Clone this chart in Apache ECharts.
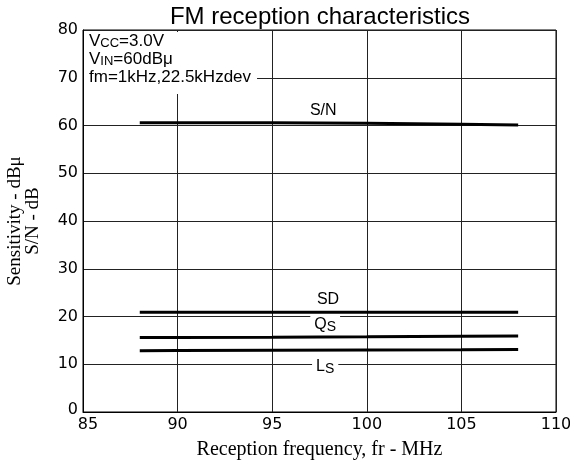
<!DOCTYPE html>
<html>
<head>
<meta charset="utf-8">
<script src="https://cdn.jsdelivr.net/npm/echarts@6/dist/echarts.min.js"></script>
<style>
  html, body { margin: 0; padding: 0; background: #fff; }
  #fmChart { width: 570px; height: 466px; }
</style>
</head>
<body>
<div id="fmChart"></div>
<script>
// data
var freq = [88, 90, 95, 100, 105, 108];
var snData = [60.6, 60.6, 60.55, 60.45, 60.25, 60.1];
var sdData = [20.9, 20.9, 20.9, 20.9, 20.9, 20.9];
var qsData = [15.6, 15.62, 15.68, 15.75, 15.85, 15.9];
var lsData = [12.85, 12.88, 12.93, 12.98, 13.05, 13.1];
var xTicks = [85, 90, 95, 100, 105, 110];
var yTicks = [0, 10, 20, 30, 40, 50, 60, 70, 80];

function pairs(ys) {
    var out = [];
    for (var i = 0; i < freq.length; i++) {
        out.push([freq[i], ys[i]]);
    }
    return out;
}

// label placed on the curve with white box so gridlines break
function curveLabel(coord, text) {
    return {
        symbol: 'circle',
        symbolSize: 1,
        silent: true,
        itemStyle: { color: 'rgba(0,0,0,0)' },
        data: [{
            coord: coord,
            value: text,
            label: {
                show: true,
                position: 'inside',
                formatter: text,
                color: '#000',
                fontFamily: 'Liberation Sans',
                fontSize: 16,
                backgroundColor: '#fff',
                padding: [0, 4, 0, 4],
                rich: {
                    s: { fontFamily: 'Liberation Sans', fontSize: 14, color: '#000', verticalAlign: 'bottom', padding: [6, 0, 0, 0] },
                    b: { fontFamily: 'Liberation Sans', fontSize: 16, color: '#000' }
                }
            }
        }]
    };
}

var myChart = echarts.init(document.getElementById('fmChart'));

var lineStyle = { color: '#000', width: 3 };

var option = {
    backgroundColor: '#fff',
    animation: false,
    title: {
        text: 'FM reception characteristics',
        left: 315,
        top: 0,
        textAlign: 'center',
        textStyle: { fontFamily: 'Liberation Sans', fontSize: 24, fontWeight: 'normal', color: '#000' }
    },
    grid: {
        left: 83, right: 14, top: 30, bottom: 54,
        containLabel: false,
        outerBoundsMode: 'none',
        show: true, borderColor: '#000', borderWidth: 1
    },
    xAxis: {
        type: 'value',
        min: 85, max: 110, interval: 5,
        name: 'Reception frequency, fr - MHz',
        nameLocation: 'middle',
        nameGap: 28,
        nameTextStyle: { fontFamily: 'Liberation Serif', fontSize: 20, color: '#000' },
        axisLine: { lineStyle: { color: '#000' } },
        axisTick: { show: false },
        splitLine: { lineStyle: { color: '#222', width: 1 } },
        axisLabel: {
            margin: 5,
            fontFamily: 'DejaVu Sans', fontSize: 16, color: '#000',
            formatter: function (v) {
                if (v === xTicks[0]) return '{f|' + v + '}';
                return '' + v;
            },
            rich: { f: { fontFamily: 'DejaVu Sans', fontSize: 16, color: '#000', padding: [0, 0, 0, 10] } }
        }
    },
    yAxis: {
        type: 'value',
        min: 0, max: 80, interval: 10,
        name: 'Sensitivity - dBμ\nS/N - dB',
        nameLocation: 'middle',
        nameGap: 41,
        nameTextStyle: { fontFamily: 'Liberation Serif', fontSize: 19, color: '#000', lineHeight: 18 },
        axisLine: { lineStyle: { color: '#000' } },
        axisTick: { show: false },
        splitLine: { lineStyle: { color: '#222', width: 1 } },
        axisLabel: {
            margin: 5,
            fontFamily: 'DejaVu Sans', fontSize: 16, color: '#000',
            formatter: function (v) {
                if (v === yTicks[0]) return '{z|' + v + '}';
                return '' + v;
            },
            rich: { z: { fontFamily: 'DejaVu Sans', fontSize: 16, color: '#000', padding: [0, 0, 5, 0] } }
        }
    },
    graphic: [{
        type: 'text',
        left: 84,
        top: 32,
        z: 50,
        style: {
            text: '{t|V}{s|CC}{t|=3.0V}\n{t|V}{s|IN}{t|=60dBμ}\n{t|fm=1kHz,22.5kHzdev}',
            backgroundColor: '#fff',
            padding: [0, 6, 8, 5],
            rich: {
                t: { fontFamily: 'Liberation Sans', fontSize: 17, color: '#000', lineHeight: 18 },
                s: { fontFamily: 'Liberation Sans', fontSize: 13, color: '#000', verticalAlign: 'bottom', lineHeight: 18, padding: [5, 0, 0, 0] }
            }
        }
    }],
    series: [
        {
            name: 'S/N', type: 'line', data: pairs(snData), symbol: 'none', lineStyle: lineStyle, z: 5,
            markPoint: curveLabel([97.7, 63.2], 'S/N')
        },
        {
            name: 'SD', type: 'line', data: pairs(sdData), symbol: 'none', lineStyle: lineStyle, z: 5,
            markPoint: curveLabel([97.95, 23.6], 'SD')
        },
        {
            name: 'QS', type: 'line', data: pairs(qsData), symbol: 'none', lineStyle: lineStyle, z: 5,
            markPoint: curveLabel([97.8, 18.4], '{b|Q}{s|S}')
        },
        {
            name: 'LS', type: 'line', data: pairs(lsData), symbol: 'none', lineStyle: lineStyle, z: 5,
            markPoint: curveLabel([97.8, 9.6], '{b|L}{s|S}')
        }
    ]
};

myChart.setOption(option);
</script>
</body>
</html>
